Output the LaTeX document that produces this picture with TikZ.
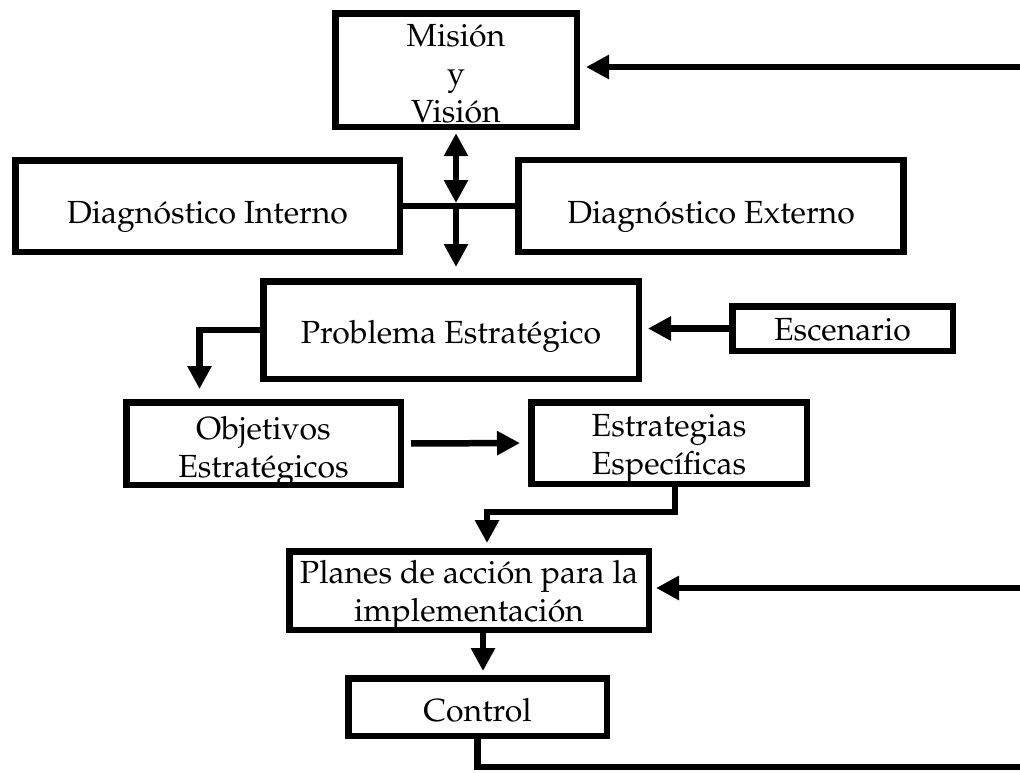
\documentclass[tikz,border=0pt]{standalone}
\usepackage[T1]{fontenc}
\renewcommand{\rmdefault}{ppl}
\usetikzlibrary{positioning, arrows.meta}
\newcommand{\topgap}[1]{\rule{0pt}{#1}}

\begin{document}
\begin{tikzpicture}[x=0.5pt, y=-0.5pt, line width=3.25pt,
	font=\fontsize{16}{19}\selectfont,
	box/.style={draw, rectangle, inner sep=1pt, align=center, text depth=0pt},
	arr/.style={-{Triangle[length=11.5pt, width=11.5pt]}},
	arrs/.style={{Triangle[length=11.5pt, width=11.5pt]}-{Triangle[length=11.5pt, width=11.5pt]}}]
	\useasboundingbox (0,0) rectangle (1020,772);
	%diagram
	\node[box, minimum width=120.75pt, minimum height=56.75pt] (mision) at (456,70) {\topgap{14pt}Misión\\y\\Visión};
	\node[box, minimum width=192.25pt, minimum height=45.75pt] (interno) at (207.5,206) {\topgap{17pt}Diagnóstico Interno};
	\node[box, minimum width=192.5pt, minimum height=46pt] (externo) at (711,206) {\topgap{17pt}Diagnóstico Externo};
	\node[box, minimum width=187.75pt, minimum height=48.75pt] (problema) at (451,330) {\topgap{13pt}Problema Estratégico};
	\node[box, minimum width=110.25pt, minimum height=22.25pt] (escenario) at (842.5,328.5) {\topgap{11.5pt}Escenario};
	\node[box, minimum width=137.25pt, minimum height=41.25pt] (objetivos) at (263.5,443.5) {\topgap{14.5pt}Objetivos\\Estratégicos};
	\node[box, minimum width=137.75pt, minimum height=40.75pt] (estrategias) at (669,443) {\topgap{12pt}Estrategias\\Específicas};
	\node[box, minimum width=179.75pt, minimum height=39.25pt] (planes) at (469,590.5) {Planes de acción para la\\implementación};
	\node[box, minimum width=129.25pt, minimum height=28.75pt] (control) at (477.5,707) {\topgap{14pt}Control};

	%connectors
	\coordinate (fbtop) at (1020,67);
	\coordinate (fbmid) at (1020,588);
	\coordinate (fbbot) at (1020,767);
	\coordinate (jn) at (456,206);
	\draw[arr, shorten >=3pt] (fbtop) -- (fbtop -| mision.east);
	\draw[arrs, shorten <=1.6pt, shorten >=1.5pt] (mision.south) -- (jn);
	\draw (interno.east) -- (externo.west);
	\draw[arr, shorten >=5.5pt] (jn) -- (jn |- problema.north);
	\draw[arr, shorten >=3pt] (escenario.west) -- (escenario.west -| problema.east);
	\draw[arr, shorten >=5pt] (problema.west) -| ([xshift=-32pt]objetivos.north);
	\draw[arr, shorten <=3.5pt, shorten >=4pt] (objetivos.east) -- (estrategias.west);
	\draw[arr, shorten >=2.5pt] ([xshift=3pt]estrategias.south) -- ++(0,25) -| ([xshift=9pt]planes.north);
	\coordinate (pc) at ([xshift=7pt]planes.south);
	\draw[arr, shorten >=2pt] (pc) -- (pc |- control.north);
	\draw[arr, shorten >=2pt] (fbmid) -- (fbmid -| planes.east);
	\draw (control.south) |- (fbbot);
\end{tikzpicture}
\end{document}
